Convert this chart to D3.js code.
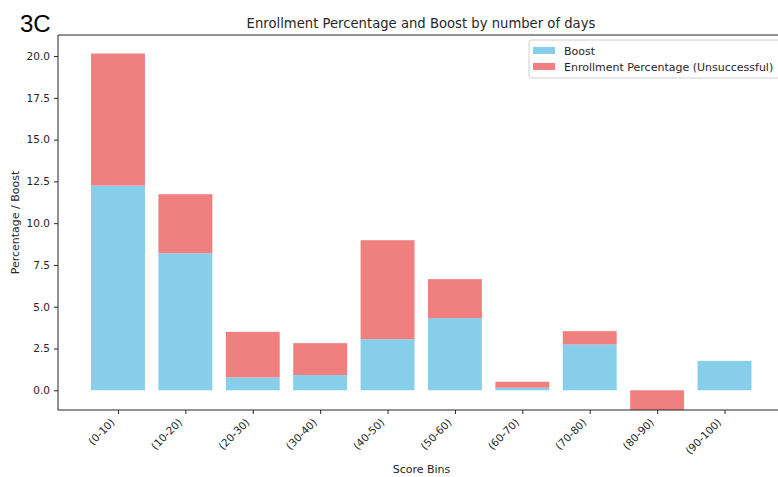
<!DOCTYPE html>
<html>
<head>
<meta charset="utf-8">
<script src="https://cdn.jsdelivr.net/npm/d3@7"></script>
<style>
  html, body { margin: 0; padding: 0; background: #fff; }
  svg { display: block; font-family: "DejaVu Sans", sans-serif; }
</style>
</head>
<body>
<svg id="chart" width="778" height="477"></svg>
<script>
// Score bins and the two stacked series
const categories = ["(0-10)", "(10-20)", "(20-30)", "(30-40)", "(40-50)",
                    "(50-60)", "(60-70)", "(70-80)", "(80-90)", "(90-100)"];
const boost = [12.25, 8.2, 0.77, 0.91, 3.06, 4.32, 0.15, 2.74, 0, 1.76];
const enrollment = [7.9, 3.53, 2.73, 1.91, 5.92, 2.33, 0.36, 0.8, -1.3, 0];
const yTicks = [0, 2.5, 5, 7.5, 10, 12.5, 15, 17.5, 20];

const svg = d3.select("#chart");
const m = { left: 58, top: 35, bottom: 410 };
const axRight = 784.5; // the axes box runs slightly past the window edge

// Band positions: bar width 0.8 of a unit step, with matplotlib-like margins
const n = categories.length;
const x = d3.scaleLinear().domain([-0.89, n - 1 + 0.89]).range([m.left, axRight]);
const y = d3.scaleLinear().domain([-1.18, 21.26]).range([m.bottom, m.top]);
const barW = x(0.8) - x(0);

const blue = "#87CEEB", coral = "#F08080", ink = "#262626";
const tickFont = 10.5, labelFont = 11;

svg.append("defs").append("clipPath").attr("id", "plotClip")
  .append("rect").attr("x", m.left).attr("y", m.top)
  .attr("width", axRight - m.left).attr("height", m.bottom - m.top);

const plot = svg.append("g").attr("clip-path", "url(#plotClip)");

// Boost bars from zero
plot.selectAll("rect.boost").data(categories).join("rect")
  .attr("class", "boost")
  .attr("x", (d, i) => x(i) - barW / 2)
  .attr("width", barW)
  .attr("y", (d, i) => y(Math.max(0, boost[i])))
  .attr("height", (d, i) => Math.abs(y(0) - y(boost[i])))
  .attr("fill", blue);

// Enrollment bars stacked on top of boost
plot.selectAll("rect.enroll").data(categories).join("rect")
  .attr("class", "enroll")
  .attr("x", (d, i) => x(i) - barW / 2)
  .attr("width", barW)
  .attr("y", (d, i) => y(Math.max(boost[i], boost[i] + enrollment[i])))
  .attr("height", (d, i) => Math.abs(y(boost[i]) - y(boost[i] + enrollment[i])))
  .attr("fill", coral);

// Axes
const yAxis = d3.axisLeft(y).tickValues(yTicks).tickFormat(d3.format(".1f"))
  .tickSize(4).tickPadding(4);
const gy = svg.append("g").attr("transform", `translate(${m.left},0)`).call(yAxis);
gy.select(".domain").remove();
gy.selectAll("text").attr("font-size", tickFont).attr("fill", ink)
  .attr("font-family", "DejaVu Sans, sans-serif");
gy.selectAll("line").attr("stroke", ink);

const xAxis = d3.axisBottom(x).tickValues(d3.range(n))
  .tickFormat(i => categories[i]).tickSize(4).tickPadding(3);
const gx = svg.append("g").attr("transform", `translate(0,${m.bottom})`).call(xAxis);
gx.select(".domain").remove();
gx.selectAll("line").attr("stroke", ink);
gx.selectAll("text")
  .attr("font-size", tickFont).attr("fill", ink)
  .attr("font-family", "DejaVu Sans, sans-serif")
  .attr("text-anchor", "end")
  .attr("dy", null).attr("x", 0).attr("y", 0)
  .attr("transform", "translate(-3,13) rotate(-45)");

// Spines
const spine = svg.append("g").attr("stroke", ink).attr("stroke-width", 1).attr("fill", "none");
spine.append("line").attr("x1", m.left).attr("x2", m.left).attr("y1", m.top).attr("y2", m.bottom);
spine.append("line").attr("x1", m.left).attr("x2", axRight).attr("y1", m.bottom).attr("y2", m.bottom);
spine.append("line").attr("x1", m.left).attr("x2", axRight).attr("y1", m.top).attr("y2", m.top);
spine.append("line").attr("x1", axRight).attr("x2", axRight).attr("y1", m.top).attr("y2", m.bottom);

// Titles and axis labels
svg.append("text").attr("x", 421).attr("y", 28).attr("text-anchor", "middle")
  .attr("font-size", 13.2).attr("fill", ink)
  .text("Enrollment Percentage and Boost by number of days");
svg.append("text").attr("x", 421.5).attr("y", 473).attr("text-anchor", "middle")
  .attr("font-size", labelFont).attr("fill", ink).text("Score Bins");
svg.append("text").attr("transform", `translate(19,${(m.top + m.bottom) / 2}) rotate(-90)`)
  .attr("text-anchor", "middle").attr("font-size", labelFont).attr("fill", ink)
  .text("Percentage / Boost");
svg.append("text").attr("x", 20).attr("y", 32)
  .attr("font-family", "Liberation Sans, Arial, sans-serif")
  .attr("font-size", 24).attr("fill", "#000").text("3C");

// Legend
const legend = svg.append("g").attr("transform", "translate(529,40)");
legend.append("rect").attr("x", 0).attr("y", 0).attr("width", 252).attr("height", 38)
  .attr("rx", 2).attr("fill", "#fff").attr("stroke", "#d0d0d0");
const items = [["Boost", blue], ["Enrollment Percentage (Unsuccessful)", coral]];
items.forEach(([label, col], i) => {
  legend.append("rect").attr("x", 4).attr("y", 7 + i * 16).attr("width", 22).attr("height", 7)
    .attr("fill", col);
  legend.append("text").attr("x", 35).attr("y", 14.5 + i * 16)
    .attr("font-size", labelFont).attr("fill", ink).text(label);
});
</script>
</body>
</html>
